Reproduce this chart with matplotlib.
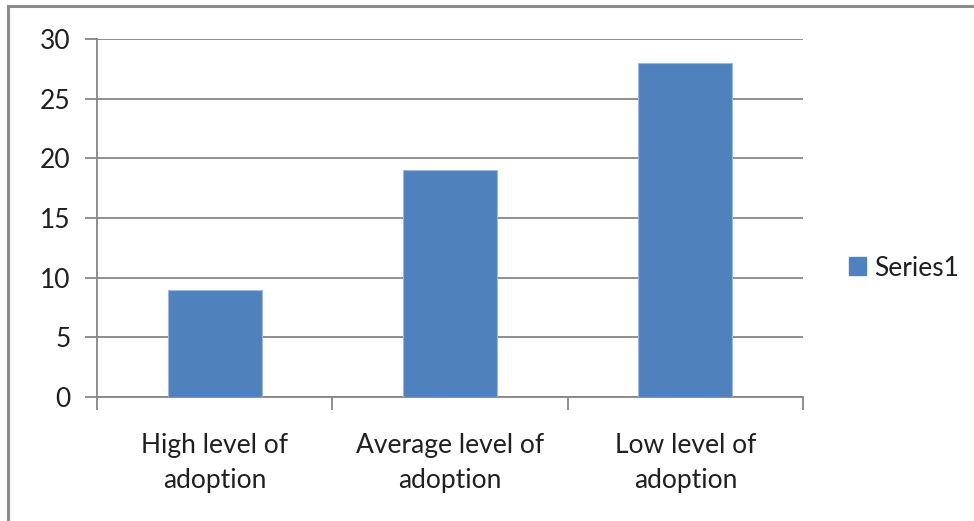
import matplotlib
matplotlib.use("Agg")
import matplotlib.pyplot as plt
from matplotlib.lines import Line2D
from matplotlib.patches import Patch

categories = ["High level of\nadoption", "Average level of\nadoption", "Low level of\nadoption"]
series1 = [9, 19, 28]
yticks = [0, 5, 10, 15, 20, 25, 30]

plt.rcParams["font.family"] = ["Lato", "DejaVu Sans"]
TEXT = "#1f1f1f"
GRID = "#868686"
BAR = "#4F81BD"
FS = 19

W, H = 974, 521
fig = plt.figure(figsize=(W / 100, H / 100), dpi=100)
fig.patch.set_facecolor("white")

# outer chart border (top and left edges)
fig.add_artist(Line2D([8 / W, 1], [1 - 6 / H, 1 - 6 / H], color="#8c8c8c", lw=2.2,
                      transform=fig.transFigure))
fig.add_artist(Line2D([8 / W, 8 / W], [0, 1 - 6 / H], color="#8c8c8c", lw=2.2,
                      transform=fig.transFigure))

left, right, top, bottom = 97, 803, 39, 397
ax = fig.add_axes([left / W, 1 - bottom / H, (right - left) / W, (bottom - top) / H])

x = list(range(len(categories)))
ax.bar(x, series1, width=0.4, color=BAR, edgecolor="#9db8da", linewidth=0.8, zorder=3)

ax.set_xlim(-0.5, len(categories) - 0.5)
ax.set_ylim(0, 30)
ax.set_yticks(yticks)
ax.set_yticklabels([str(v) for v in yticks])
ax.yaxis.grid(True, color=GRID, linewidth=1.3, zorder=0)
ax.set_axisbelow(True)

for s in ["top", "right"]:
    ax.spines[s].set_visible(False)
ax.spines["left"].set_color(GRID)
ax.spines["left"].set_linewidth(1.3)
ax.spines["bottom"].set_color(GRID)
ax.spines["bottom"].set_linewidth(1.3)

ax.tick_params(axis="y", length=9, width=1.3, color=GRID, labelsize=FS, labelcolor=TEXT, pad=10)

# category tick marks sit on the boundaries between categories
ax.set_xticks([i - 0.5 for i in range(len(categories) + 1)])
ax.set_xticklabels([])
ax.tick_params(axis="x", length=9, width=1.3, color=GRID, direction="out")
for i, lab in enumerate(categories):
    ax.text(i, -3.0, lab, ha="center", va="top", fontsize=FS, color=TEXT,
            linespacing=1.5, transform=ax.transData, clip_on=False)

leg = fig.legend(handles=[Patch(facecolor=BAR, edgecolor=BAR)], labels=["Series1"],
                 loc="center left", bbox_to_anchor=(849 / W, 1 - 268 / H),
                 frameon=False, fontsize=FS, handlelength=0.65, handleheight=0.65,
                 handletextpad=0.32, labelcolor=TEXT, borderpad=0, borderaxespad=0)

fig.savefig("out.png", dpi=100, facecolor="white")
